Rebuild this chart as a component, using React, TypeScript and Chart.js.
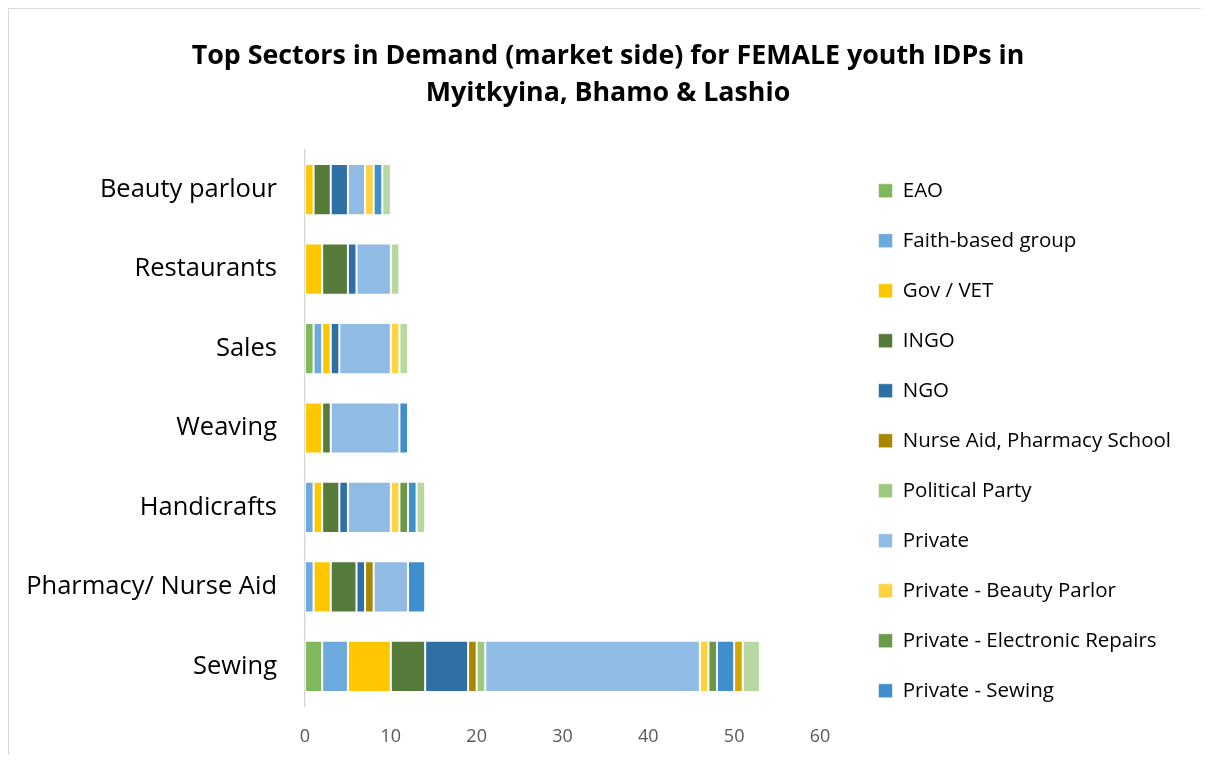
import React, { useEffect, useRef } from "react";
import { Chart, registerables } from "chart.js";

Chart.register(...registerables);

const titleLines = [
  "Top Sectors in Demand (market side) for FEMALE youth IDPs in",
  "Myitkyina, Bhamo & Lashio",
];

const categories = [
  "Beauty parlour",
  "Restaurants",
  "Sales",
  "Weaving",
  "Handicrafts",
  "Pharmacy/ Nurse Aid",
  "Sewing",
];

const seriesNames = [
  "EAO",
  "Faith-based group",
  "Gov / VET",
  "INGO",
  "NGO",
  "Nurse Aid, Pharmacy School",
  "Political Party",
  "Private",
  "Private - Beauty Parlor",
  "Private - Electronic Repairs",
  "Private - Sewing",
  "Private - Tailoring",
  "UN Agency",
];

// values per category (same order as categories)
const eao = [0, 0, 1, 0, 0, 0, 2];
const faithBased = [0, 0, 1, 0, 1, 1, 3];
const govVet = [1, 2, 1, 2, 1, 2, 5];
const ingo = [2, 3, 0, 1, 2, 3, 4];
const ngo = [2, 1, 1, 0, 1, 1, 5];
const nurseAid = [0, 0, 0, 0, 0, 1, 1];
const politicalParty = [0, 0, 0, 0, 0, 0, 1];
const privateSector = [2, 4, 6, 8, 5, 4, 25];
const privateBeauty = [1, 0, 1, 0, 1, 0, 1];
const privateElectronic = [0, 0, 0, 0, 1, 0, 1];
const privateSewing = [1, 0, 0, 1, 1, 2, 2];
const privateTailoring = [0, 0, 0, 0, 0, 0, 1];
const unAgency = [1, 1, 1, 0, 1, 0, 2];

const seriesValues = [
  eao,
  faithBased,
  govVet,
  ingo,
  ngo,
  nurseAid,
  politicalParty,
  privateSector,
  privateBeauty,
  privateElectronic,
  privateSewing,
  privateTailoring,
  unAgency,
];

const seriesColors = [
  "#80b95c",
  "#6caadd",
  "#ffc700",
  "#557a39",
  "#2e70a5",
  "#a88600",
  "#9cc97d",
  "#8fbbe4",
  "#ffd23f",
  "#6a9a48",
  "#3f8fcc",
  "#d4a700",
  "#b8d8a2",
];

const xTicks = [0, 10, 20, 30, 40, 50, 60];
const LEGEND_COUNT = 11;

const FONT = "'Open Sans'";
const W = 1198;
const H = 746;

export default function App() {
  const ref = useRef<HTMLCanvasElement>(null);

  useEffect(() => {
    const canvas = ref.current;
    if (!canvas) return;
    const legendFontSize = 20.5;
    const mctx = canvas.getContext("2d")!;
    mctx.font = `${legendFontSize}px ${FONT}`;
    let maxTw = 0;
    seriesNames.slice(0, LEGEND_COUNT).forEach((n) => {
      maxTw = Math.max(maxTw, mctx.measureText(n).width);
    });
    const legendPad = 50 - legendFontSize;
    const boxW = 14;
    const legendWidth = legendPad + boxW + legendFontSize / 2 + maxTw + 10;
    const chartLeft = 296;
    const chartRight = 811;
    const gap = 29;
    const outerGap = Math.max(0, W - chartRight - gap - legendWidth);

    const chart = new Chart(canvas, {
      type: "bar",
      data: {
        labels: categories,
        datasets: seriesNames.map((name, i) => ({
          label: name,
          data: seriesValues[i],
          backgroundColor: seriesColors[i],
          borderColor: "rgba(255,255,255,0.55)",
          borderWidth: 1,
          borderSkipped: false,
          barPercentage: 0.645,
          categoryPercentage: 1,
          xAxisID: "x",
          yAxisID: "y",
        })),
      },
      options: {
        indexAxis: "y",
        animation: false,
        responsive: false,
        layout: { padding: 0 },
        scales: {
          y: {
            type: "category",
            position: "left",
            stacked: true,
            grid: { display: false, drawTicks: false },
            border: { display: true, color: "#d9d9d9", width: 1.5 },
            ticks: {
              color: "#000",
              font: { family: FONT, size: 25.5 },
              padding: 28,
            },
            afterFit: (s: any) => {
              s.width = chartLeft;
            },
          },
          spacer: {
            type: "linear",
            axis: "y",
            position: "right",
            weight: 0,
            display: true,
            grid: { display: false, drawTicks: false },
            border: { display: false },
            ticks: { display: false },
            afterFit: (s: any) => {
              s.width = gap;
            },
          },
          outerSpacer: {
            type: "linear",
            axis: "y",
            position: "right",
            weight: 5000,
            display: true,
            grid: { display: false, drawTicks: false },
            border: { display: false },
            ticks: { display: false },
            afterFit: (s: any) => {
              s.width = outerGap;
            },
          },
          x: {
            type: "linear",
            stacked: true,
            min: 0,
            max: 60,
            grid: { display: false, drawTicks: false },
            border: { display: false },
            afterBuildTicks: (s: any) => {
              s.ticks = xTicks.map((v) => ({ value: v }));
            },
            ticks: {
              color: "#595959",
              font: { family: FONT, size: 18 },
              padding: 20,
            },
            afterFit: (s: any) => {
              s.height = 49;
            },
          },
        } as any,
        plugins: {
          title: {
            display: true,
            text: titleLines,
            color: "#000",
            font: { family: FONT, size: 26.8, weight: "bold", lineHeight: 37 / 26.8 },
            padding: { top: 28.5, bottom: 38.5 },
          },
          legend: {
            display: true,
            position: "right",
            align: "start",
            maxWidth: 800,
            title: {
              display: true,
              text: " ",
              font: { size: 1, lineHeight: 1 },
              padding: { top: 141, bottom: 0 },
            },
            labels: {
              boxWidth: boxW,
              boxHeight: boxW,
              padding: legendPad,
              color: "#000",
              font: { family: FONT, size: legendFontSize },
              filter: (item: any) => item.datasetIndex < LEGEND_COUNT,
            },
          },
          tooltip: { enabled: false },
        },
      } as any,
    });
    return () => chart.destroy();
  }, []);

  return (
    <div
      style={{
        width: 1200,
        height: 747,
        border: "1px solid #d9d9d9",
        borderBottom: "none",
        boxSizing: "border-box",
        background: "#fff",
      }}
    >
      <canvas ref={ref} width={W} height={H} style={{ display: "block", width: W, height: H }} />
    </div>
  );
}
